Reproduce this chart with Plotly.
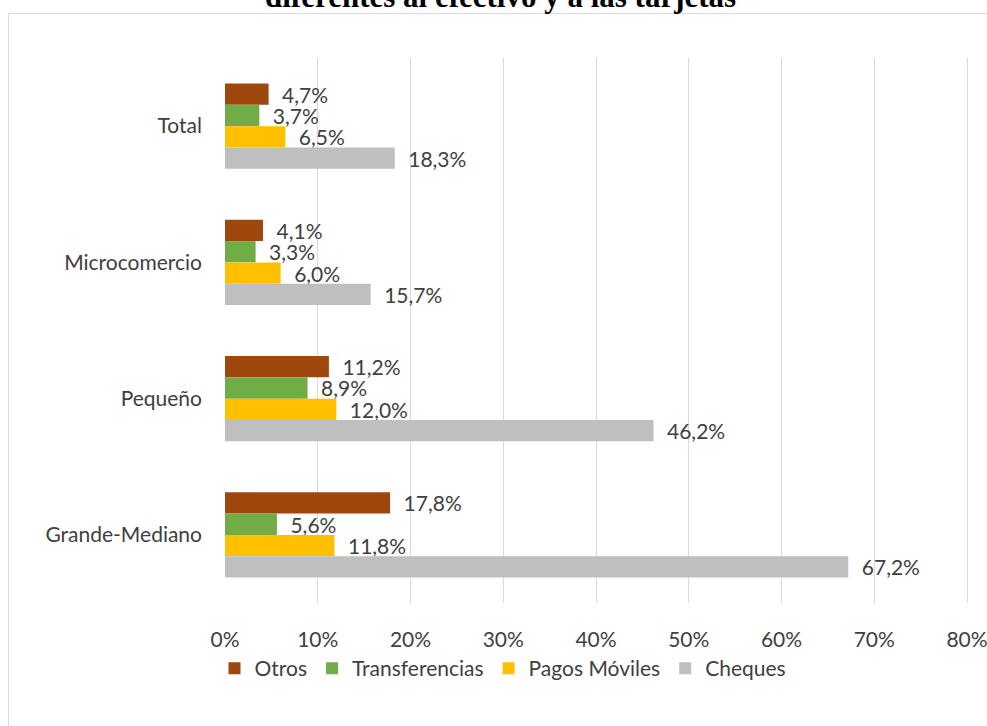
import plotly.graph_objects as go

# Shares of businesses using each non-cash, non-card payment method, by firm size
categories = ["Total", "Microcomercio", "Pequeño", "Grande-Mediano"]
otros = [4.7, 4.1, 11.2, 17.8]
transferencias = [3.7, 3.3, 8.9, 5.6]
pagos_moviles = [6.5, 6.0, 12.0, 11.8]
cheques = [18.3, 15.7, 46.2, 67.2]
x_ticks = [0, 10, 20, 30, 40, 50, 60, 70, 80]

series = [
    ("Otros", otros, "#9E480E"),
    ("Transferencias", transferencias, "#70AD47"),
    ("Pagos Móviles", pagos_moviles, "#FFC000"),
    ("Cheques", cheques, "#BFBFBF"),
]

FONT = "Lato, 'Open Sans', sans-serif"
TEXT_COLOR = "#404040"
GRID = "#D9D9D9"

# plot area geometry (pixels)
LEFT, RIGHT, TOP, BOTTOM = 225, 10, 58, 123
PLOT_W = 987 - LEFT - RIGHT
PLOT_H = 726 - TOP - BOTTOM
X_MAX = 80 * PLOT_W / 742  # keeps 80% at 742 px from the origin


def px_to_paper_x(p):
    return (p - LEFT) / PLOT_W


def px_to_paper_y(p):
    return (726 - BOTTOM - p) / PLOT_H


def pct_label(v):
    return "\u2002" + f"{v:.1f}".replace(".", ",") + "%"


fig = go.Figure()
for name, vals, color in series:
    fig.add_trace(go.Bar(
        name=name,
        y=categories,
        x=vals,
        orientation="h",
        marker=dict(color=color, line=dict(width=0)),
        text=[pct_label(v) for v in vals],
        textposition="outside",
        textfont=dict(family=FONT, size=21, color=TEXT_COLOR),
        constraintext="none",
        cliponaxis=False,
    ))

fig.update_layout(
    width=987,
    height=726,
    margin=dict(l=LEFT, r=RIGHT, t=TOP, b=BOTTOM, autoexpand=False),
    paper_bgcolor="white",
    plot_bgcolor="white",
    barmode="group",
    bargap=0.375,
    bargroupgap=0,
    font=dict(family=FONT, size=21, color=TEXT_COLOR),
    showlegend=True,
    legend=dict(
        orientation="h",
        x=px_to_paper_x(503),
        xanchor="center",
        y=px_to_paper_y(648),
        yanchor="top",
        font=dict(family=FONT, size=21, color=TEXT_COLOR),
        itemwidth=30,
        traceorder="normal",
    ),
    xaxis=dict(
        range=[0, X_MAX],
        tickvals=x_ticks,
        ticktext=[f"{t}%" for t in x_ticks],
        showgrid=True,
        gridcolor=GRID,
        gridwidth=1,
        zeroline=False,
        showline=False,
        ticks="",
        ticklabelstandoff=22,
        ticklabeloverflow="allow",
        automargin=False,
        tickfont=dict(family=FONT, size=21, color=TEXT_COLOR),
    ),
    yaxis=dict(
        autorange="reversed",
        showgrid=False,
        zeroline=False,
        showline=False,
        ticks="",
        ticklabelstandoff=22,
        automargin=False,
        tickfont=dict(family=FONT, size=21, color=TEXT_COLOR),
    ),
)

# Chart frame (extends past the right and bottom edges of the page)
fig.add_shape(
    type="rect", xref="paper", yref="paper",
    x0=px_to_paper_x(8.5), x1=1.2, y0=-0.4, y1=px_to_paper_y(13.5),
    line=dict(color=GRID, width=1), fillcolor="rgba(0,0,0,0)", layer="below",
)

# Second line of the chart title, sitting above the frame
fig.add_annotation(
    text="<b>diferentes al efectivo y a las tarjetas</b>",
    xref="paper", yref="paper",
    x=px_to_paper_x(500), y=px_to_paper_y(16),
    xanchor="center", yanchor="bottom",
    showarrow=False,
    font=dict(family="Liberation Serif, 'Times New Roman', serif", size=31, color="black"),
)

fig.write_html("out.html")
